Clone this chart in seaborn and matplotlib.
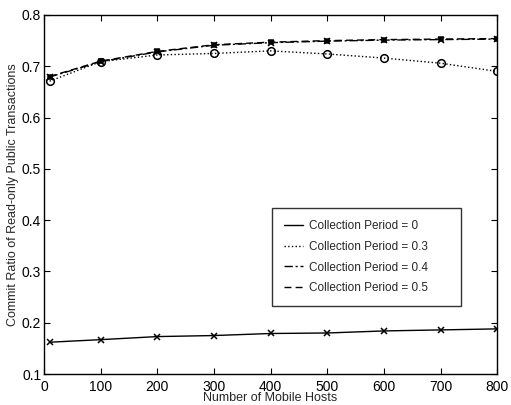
import matplotlib
matplotlib.use("Agg")
import matplotlib.pyplot as plt
import seaborn as sns
import pandas as pd

hosts = [10, 100, 200, 300, 400, 500, 600, 700, 800]
period_0 = [0.162, 0.167, 0.173, 0.175, 0.179, 0.180, 0.184, 0.186, 0.188]
period_03 = [0.671, 0.709, 0.722, 0.725, 0.730, 0.724, 0.716, 0.706, 0.690]
period_04 = [0.679, 0.709, 0.728, 0.741, 0.746, 0.749, 0.751, 0.752, 0.753]
period_05 = [0.680, 0.710, 0.729, 0.742, 0.747, 0.750, 0.752, 0.753, 0.754]

labels = ["Collection Period = 0", "Collection Period = 0.3",
          "Collection Period = 0.4", "Collection Period = 0.5"]
series = [period_0, period_03, period_04, period_05]
styles = [("-", "x", 5, "none"), (":", "o", 5.5, "none"),
          ((0, (6, 2, 1.5, 2)), "x", 5, "none"), ((0, (5, 3)), "s", 3.5, "black")]

sns.set_theme(style="ticks")
plt.rcParams["font.family"] = ["Liberation Sans", "DejaVu Sans"]

fig = plt.figure(figsize=(5.11, 4.05), dpi=100)
ax = fig.add_axes([0.086, 0.0765, 0.887, 0.8865])

for lab, vals, (ls, mk, ms, mfc) in zip(labels, series, styles):
    df = pd.DataFrame({"hosts": hosts, "ratio": vals})
    sns.lineplot(data=df, x="hosts", y="ratio", ax=ax, color="black",
                 linestyle=ls, linewidth=1.0, label=lab)
    # markers drawn separately so the legend shows only the line styles
    ax.plot(hosts, vals, linestyle="none", marker=mk, markersize=ms,
            markerfacecolor=mfc, markeredgecolor="black", markeredgewidth=1.1)

ax.set_xlim(0, 800)
ax.set_ylim(0.1, 0.8)
ax.set_xticks(range(0, 801, 100))
ax.set_yticks([0.1, 0.2, 0.3, 0.4, 0.5, 0.6, 0.7, 0.8])
ax.set_yticklabels(["0.1", "0.2", "0.3", "0.4", "0.5", "0.6", "0.7", "0.8"])
ax.tick_params(direction="in", top=True, right=True, length=4, width=0.8,
               labelsize=10, colors="black")
ax.tick_params(axis="x", pad=4)
ax.tick_params(axis="y", pad=2)
for s in ax.spines.values():
    s.set_visible(True)
    s.set_color("black")
    s.set_linewidth(1.0)

ax.set_xlabel("Number of Mobile Hosts", fontsize=9, labelpad=-1)
ax.set_ylabel("Commit Ratio of Read-only Public Transactions", fontsize=9, labelpad=2)

leg = ax.legend(loc="lower left", bbox_to_anchor=(0.503, 0.189, 0.418, 0.287),
                mode="expand", frameon=True, fancybox=False, fontsize=8.5,
                handlelength=1.6, handletextpad=0.5, borderpad=1.0,
                labelspacing=0.75, borderaxespad=0)
leg.get_frame().set_edgecolor("black")
leg.get_frame().set_linewidth(1.0)

fig.savefig("out.png", dpi=100, facecolor="white")
